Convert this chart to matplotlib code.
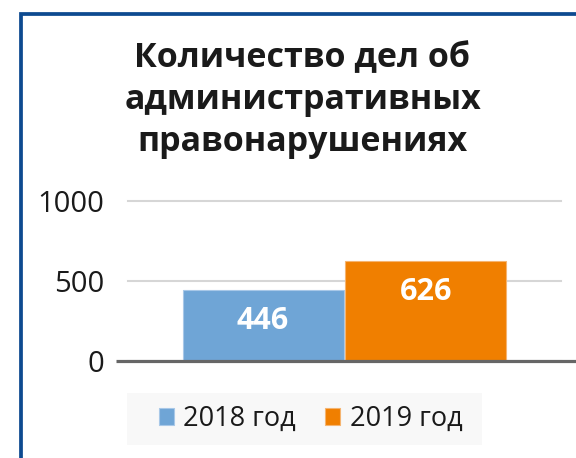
import matplotlib
matplotlib.use("Agg")
import matplotlib.pyplot as plt
from matplotlib.patches import Rectangle
import numpy as np

# Data
title = "Количество дел об\nадминистративных\nправонарушениях"
series_names = ["2018 год", "2019 год"]
values = [446, 626]
colors = ["#6FA5D6", "#F07F00"]
edge_colors = ["#A8C8E8", "#F5B470"]
yticks = [0, 500, 1000]
ytick_labels = ["0", "500", "1000"]

FONT = "Open Sans"
W, H = 576, 458
fig = plt.figure(figsize=(W / 100, H / 100), dpi=100)
fig.patch.set_facecolor("white")

def fx(px):
    return px / W

def fy(py):
    return 1 - py / H

ax_left, ax_right = 128, 561
ax_top, ax_bottom = 201.3, 360.7
ax = fig.add_axes([fx(ax_left), fy(ax_bottom), (ax_right - ax_left) / W, (ax_bottom - ax_top) / H])
ax.set_facecolor("none")

bw = 0.376
offsets = [-bw / 2, bw / 2]
for v, off, c, ec, name in zip(values, offsets, colors, edge_colors, series_names):
    ax.bar(off, v, width=bw - 0.004, color=c, edgecolor=ec, linewidth=0.8, label=name, zorder=3)
    ax.annotate(str(v), xy=(off, v), xytext=(0, -22.5), textcoords="offset points",
                ha="center", va="center", color="white", fontsize=22, fontweight="bold",
                family=FONT, zorder=4)

ax.set_xlim(-0.5, 0.5)
ax.set_ylim(0, 1000)
ax.set_xticks([])
ax.set_yticks(yticks)
ax.set_yticklabels(ytick_labels, family=FONT, fontsize=21, color="#1a1a1a")
ax.tick_params(axis="y", length=0, pad=17)
for s in ax.spines.values():
    s.set_visible(False)
ax.yaxis.grid(True, color="#d6d6d6", linewidth=1.5, zorder=0)
for gl in ax.get_ygridlines():
    gl.set_clip_on(False)
ax.set_axisbelow(True)

# baseline axis line
ax.plot([(115.7 - ax_left) / (ax_right - ax_left), (576 - ax_left) / (ax_right - ax_left)], [0, 0],
        transform=ax.get_yaxis_transform(), color="#666666", linewidth=2.3, clip_on=False, zorder=5,
        solid_capstyle="butt")

# Title
fig.text(fx(302.5), fy(100), title, ha="center", va="center", family=FONT, fontsize=24.5,
         fontweight="bold", color="#1a1a1a", linespacing=1.3)

# Legend background
fig.patches.append(Rectangle((fx(126.7), fy(445)), (481.7 - 126.7) / W, (445 - 393) / H,
                             transform=fig.transFigure, facecolor="#F8F8F8", edgecolor="none", zorder=0))
leg = fig.legend(loc="center", bbox_to_anchor=(fx(310.5), fy(419)), ncol=2, frameon=False,
                 prop={"family": FONT, "size": 19.5}, handlelength=0.55, handleheight=0.55,
                 handletextpad=0.35, columnspacing=1.1, borderaxespad=0)
for t in leg.get_texts():
    t.set_color("#1a1a1a")

# Frame (left and top borders)
fig.patches.append(Rectangle((fx(21), fy(520)), 2, (520 - 14.2) / H, transform=fig.transFigure,
                             facecolor="none", edgecolor="#0D4A90", linewidth=2.7, zorder=10))

fig.savefig("out.png", dpi=100, facecolor="white")
